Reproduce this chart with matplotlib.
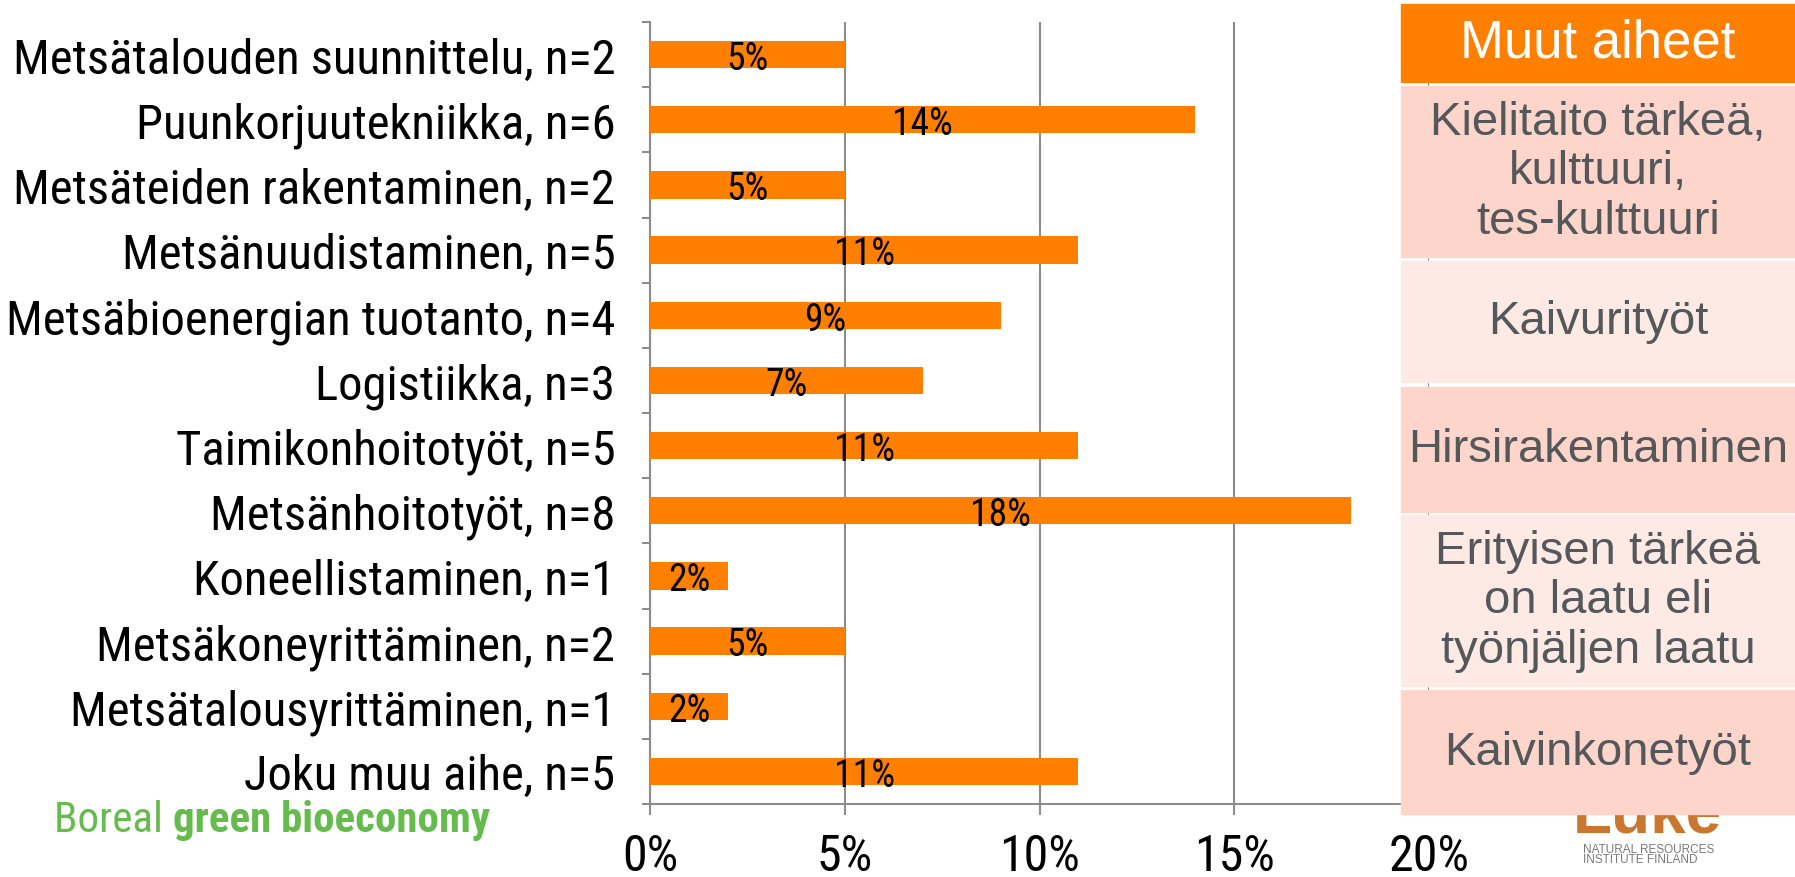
import matplotlib
matplotlib.use("Agg")
import matplotlib.pyplot as plt
from matplotlib import font_manager as fm
from matplotlib.patches import Rectangle

plt.rcParams['font.family'] = ['Liberation Sans', 'DejaVu Sans']

# data
categories = ['Metsätalouden suunnittelu, n=2', 'Puunkorjuutekniikka, n=6',
              'Metsäteiden rakentaminen, n=2', 'Metsänuudistaminen, n=5',
              'Metsäbioenergian tuotanto, n=4', 'Logistiikka, n=3',
              'Taimikonhoitotyöt, n=5', 'Metsänhoitotyöt, n=8',
              'Koneellistaminen, n=1', 'Metsäkoneyrittäminen, n=2',
              'Metsätalousyrittäminen, n=1', 'Joku muu aihe, n=5']
shares = [5, 14, 5, 11, 9, 7, 11, 18, 2, 5, 2, 11]
x_ticks = [0, 5, 10, 15, 20]

table_header = 'Muut aiheet'
table_rows = ['Kielitaito tärkeä,\nkulttuuri,\ntes-kulttuuri',
              'Kaivurityöt',
              'Hirsirakentaminen',
              'Erityisen tärkeä\non laatu eli\ntyönjäljen laatu',
              'Kaivinkonetyöt']


def condensed_font():
    avail = {(f.name, f.stretch) for f in fm.fontManager.ttflist}
    names = {n for n, s in avail}
    for name in ['Liberation Sans Narrow', 'Arial Narrow', 'Roboto Condensed',
                 'Open Sans Condensed']:
        if name in names:
            return dict(family=name)
    for name in ['Noto Sans', 'Open Sans', 'Roboto', 'DejaVu Sans']:
        for st in ['condensed', 'semi-condensed']:
            if (name, st) in avail:
                return dict(family=name, stretch=st)
    return dict(family='Liberation Sans')


cond = condensed_font()


def fp(size, weight='normal'):
    return fm.FontProperties(size=size, weight=weight, **cond)


orange = '#FF8000'
grey = '#8C8C8C'
text_grey = '#54585A'

W, H = 1795, 878
fig = plt.figure(figsize=(W / 100, H / 100), dpi=100)
fig.patch.set_facecolor('white')

ax = fig.add_axes([650 / W, 1 - 805 / H, (1429 - 650) / W, (805 - 23) / H])
ypos = list(range(len(categories)))
ax.barh(ypos, shares, height=0.42, color=orange, zorder=3)
for y, v in zip(ypos, shares):
    ax.text(v / 2, y + 0.06, f'{v}%', ha='center', va='center',
            color='black', zorder=4, fontproperties=fp(27))

ax.set_ylim(len(categories) - 0.5, -0.5)
ax.set_yticks(ypos)
ax.set_yticklabels(categories)
for lab in ax.get_yticklabels():
    lab.set_fontproperties(fp(35))
ax.set_yticks([i - 0.5 for i in range(len(categories) + 1)], minor=True)
ax.tick_params(axis='y', which='major', length=0, pad=25)
ax.tick_params(axis='y', which='minor', length=6, width=1.5, color=grey)

ax.set_xlim(0, 20)
ax.set_xticks(x_ticks)
ax.set_xticklabels([f'{t}%' for t in x_ticks])
for lab in ax.get_xticklabels():
    lab.set_fontproperties(fp(36))
ax.tick_params(axis='x', length=8, width=1.5, color=grey, pad=12)
ax.grid(axis='x', color=grey, linewidth=1.5, zorder=0)
ax.set_axisbelow(True)
for s in ['top', 'right']:
    ax.spines[s].set_visible(False)
for s in ['left', 'bottom']:
    ax.spines[s].set_color(grey)
    ax.spines[s].set_linewidth(1.5)

# overlay in pixel coordinates: side table and logos
ov = fig.add_axes([0, 0, 1, 1], zorder=5)
ov.set_xlim(0, W)
ov.set_ylim(H, 0)
ov.axis('off')
ov.patch.set_alpha(0)

# Luke logo (partly hidden behind the table)
ov.text(1573, 833, 'Luke', fontsize=46, fontweight='bold', color='#C9772E',
        ha='left', va='baseline', zorder=1)
ov.text(1583, 850, 'NATURAL RESOURCES', fontsize=8.5, color='#7A7A7A',
        ha='left', va='center', zorder=1)
ov.text(1583, 860, 'INSTITUTE FINLAND', fontsize=8.5, color='#7A7A7A',
        ha='left', va='center', zorder=1)

tx0, tx1 = 1401, 1795
cx = (tx0 + tx1) / 2
ov.add_patch(Rectangle((tx0, 5), tx1 - tx0, 78, color=orange, zorder=2))
ov.text(cx, 44, table_header, fontsize=38, color='white', ha='center',
        va='center', zorder=3)
row_spans = [(87, 258), (262, 383), (388, 513), (516, 687), (691, 815)]
row_colors = ['#FDD5CA', '#FEEAE5']
for i, (label, (y0, y1)) in enumerate(zip(table_rows, row_spans)):
    ov.add_patch(Rectangle((tx0, y0), tx1 - tx0, y1 - y0,
                           color=row_colors[i % 2], zorder=2))
    ov.text(cx, (y0 + y1) / 2, label, fontsize=34, color=text_grey,
            ha='center', va='center', linespacing=1.15, zorder=3)

# Boreal green bioeconomy
green = '#66BB4D'
t1 = ov.text(54, 821, 'Boreal ', color=green, ha='left', va='center',
             fontproperties=fp(31))
renderer = fig.canvas.get_renderer()
bb = t1.get_window_extent(renderer)
ov.text(54 + bb.width, 821, 'green bioeconomy', color=green, ha='left',
        va='center', fontproperties=fp(31, 'bold'))

fig.savefig('out.png', dpi=100)
